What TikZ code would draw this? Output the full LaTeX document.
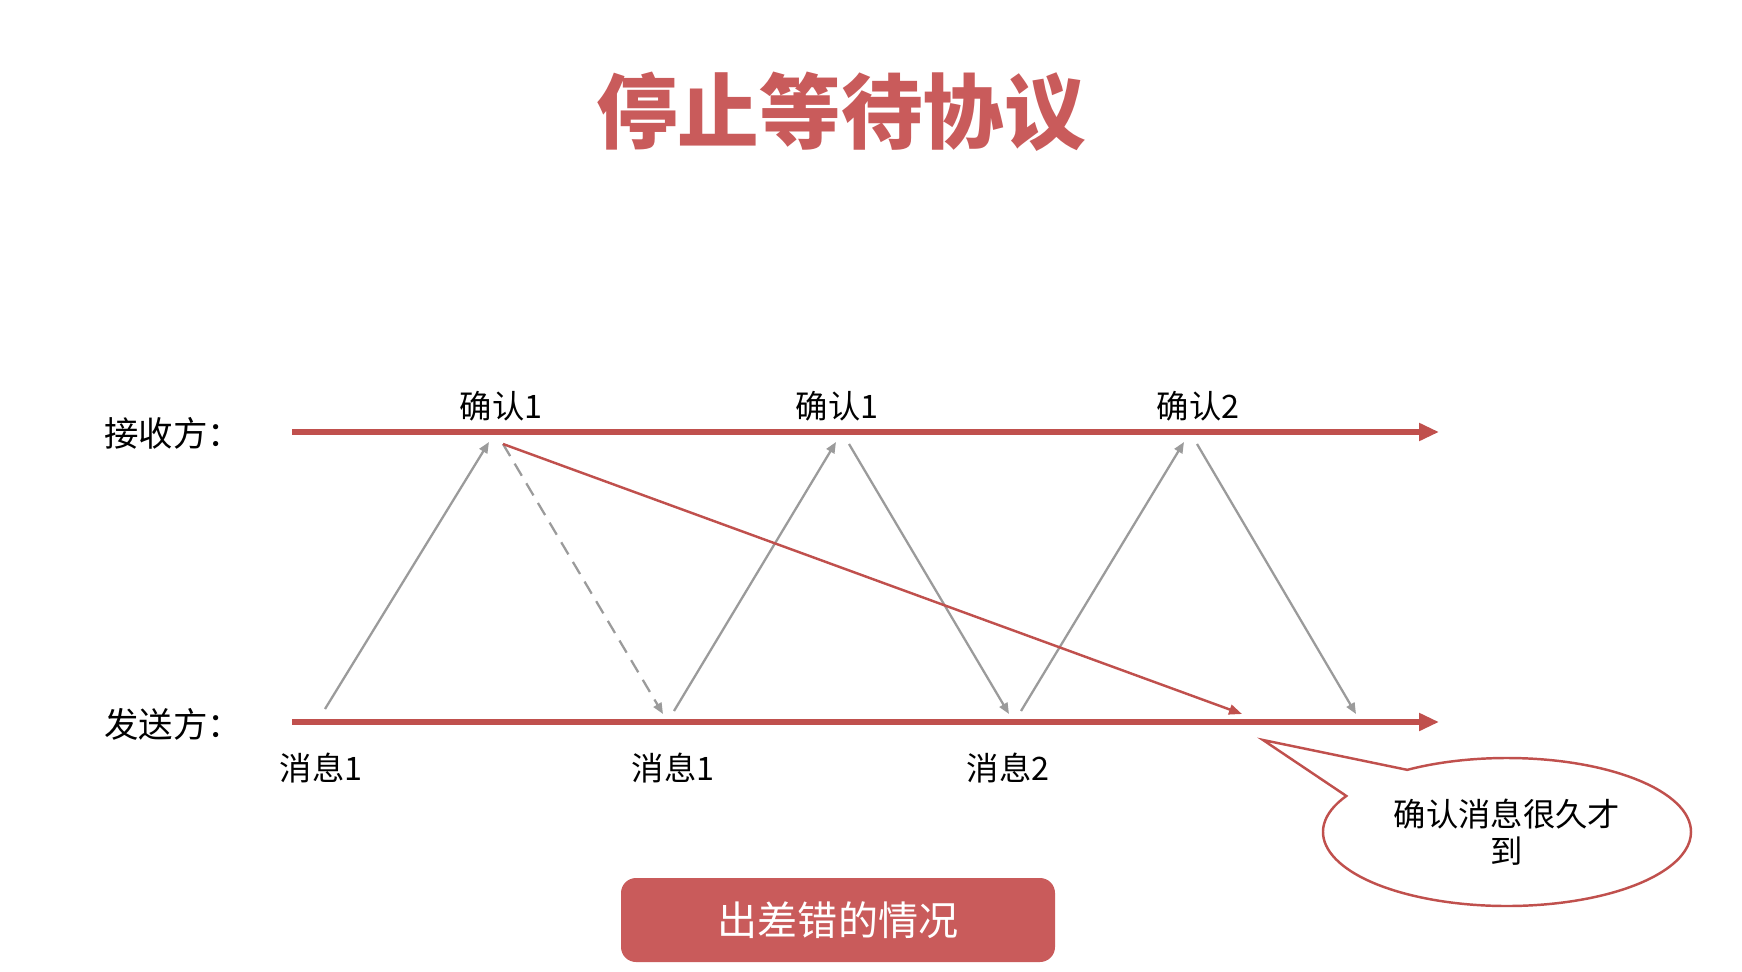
\documentclass[tikz,border=0pt]{standalone}
\usepackage{fontspec}
\setmainfont{Noto Sans CJK SC}
\usetikzlibrary{arrows.meta,shapes.callouts}
\definecolor{linered}{RGB}{192,80,77}
\definecolor{boxred}{RGB}{201,91,91}
\definecolor{msggray}{RGB}{155,155,155}
\begin{document}
\begin{tikzpicture}[x=0.1mm,y=-0.1mm,
	timeline/.style={linered,line width=1.7pt,-{Triangle[length=2mm,width=1.7mm]}},
	msg/.style={msggray,line width=0.65pt,-{Triangle[length=1.1mm,width=0.9mm]}},
	late/.style={linered,line width=0.7pt,-{Triangle[length=1.3mm,width=1mm]}},
	lbl/.style={font=\fontsize{9.2}{11}\selectfont}]
	\useasboundingbox (0,0) rectangle (1742,972);
	\node[font=\fontsize{23.2}{28}\selectfont\bfseries,text=boxred] (title) at (841,112) {停止等待协议};
	% time lines
	\node[lbl,font=\fontsize{9.8}{12}\selectfont,anchor=west] (recv) at (92,433) {接收方：};
	\node[lbl,font=\fontsize{9.8}{12}\selectfont,anchor=west] (send) at (92,724) {发送方：};
	\coordinate (r0) at (292,432); \coordinate (r1) at (1439,432);
	\coordinate (s0) at (292,722); \coordinate (s1) at (1439,722);
	\draw[timeline] (r0) -- (r1);
	\draw[timeline] (s0) -- (s1);
	% labels
	\node[lbl] (ack1) at (501,406) {确认1};
	\node[lbl] (ack1b) at (837,406) {确认1};
	\node[lbl] (ack2) at (1198,406) {确认2};
	\node[lbl] (msg1) at (321,768) {消息1};
	\node[lbl] (msg1b) at (673,768) {消息1};
	\node[lbl] (msg2) at (1008,768) {消息2};
	% ends of the messages
	\coordinate (m1) at (325,709); \coordinate (a1) at (489,442);
	\coordinate (a1d) at (503,444); \coordinate (m1d) at (663,714);
	\coordinate (m2) at (674,711); \coordinate (a2) at (836,442);
	\coordinate (a2d) at (849,444); \coordinate (m2d) at (1009,714);
	\coordinate (m3) at (1021,711); \coordinate (a3) at (1184,442);
	\coordinate (a3d) at (1197,444); \coordinate (m3d) at (1356,714);
	\coordinate (lated) at (1242,714);
	\draw[msg] (m1) -- (a1);
	\draw[msg,dash pattern=on 4pt off 2.5pt] (a1d) -- (m1d);
	\draw[msg] (m2) -- (a2);
	\draw[msg] (a2d) -- (m2d);
	\draw[msg] (m3) -- (a3);
	\draw[msg] (a3d) -- (m3d);
	\draw[late] (a1d) -- (lated);
	% note and caption
	\node[ellipse callout,draw=linered,line width=0.7pt,fill=white,
		minimum width=36.8mm,minimum height=14.8mm,callout pointer arc=28,
		callout absolute pointer={(1263,740)},align=center,
		font=\fontsize{9.2}{10.5}\selectfont] (note) at (1507,832) {确认消息很久才\\到};
	\node[fill=boxred,rounded corners=1.5mm,minimum width=43.4mm,minimum height=8.4mm,
		text=white,font=\fontsize{11.4}{13}\selectfont] (case) at (838,920) {出差错的情况};
\end{tikzpicture}
\end{document}
